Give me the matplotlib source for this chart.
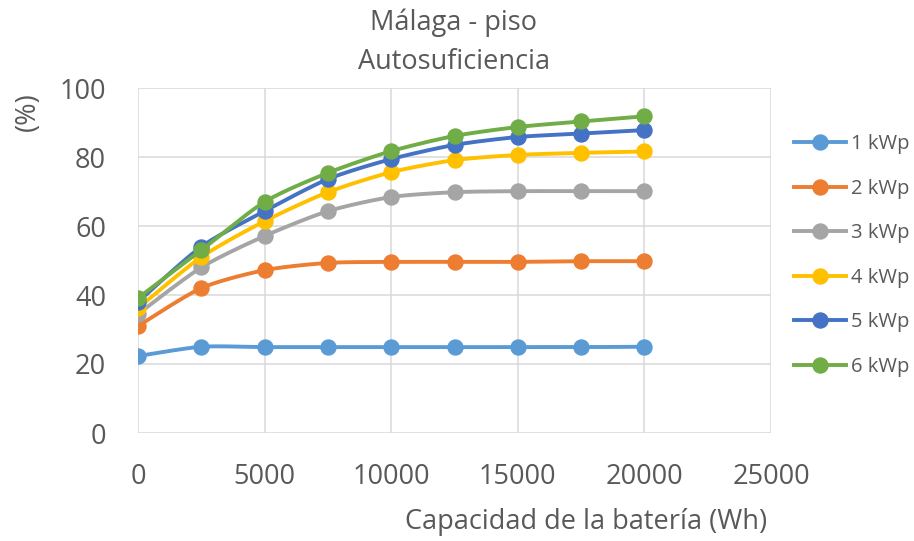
import numpy as np
import matplotlib
matplotlib.use("Agg")
import matplotlib.pyplot as plt
from matplotlib.lines import Line2D

# Battery capacity (Wh) and self-sufficiency (%) per PV size
capacidad = [0, 2500, 5000, 7500, 10000, 12500, 15000, 17500, 20000]
series_labels = ["1 kWp", "2 kWp", "3 kWp", "4 kWp", "5 kWp", "6 kWp"]
kwp1 = [22.3, 25.0, 24.9, 24.9, 24.9, 24.9, 24.9, 24.9, 25.0]
kwp2 = [31.0, 42.0, 47.2, 49.3, 49.6, 49.6, 49.6, 49.8, 49.8]
kwp3 = [34.5, 48.0, 57.1, 64.3, 68.4, 69.8, 70.1, 70.1, 70.1]
kwp4 = [36.2, 51.0, 61.4, 69.8, 75.6, 79.1, 80.6, 81.2, 81.6]
kwp5 = [38.0, 54.0, 64.3, 73.6, 79.4, 83.5, 85.8, 86.8, 87.8]
kwp6 = [39.1, 53.0, 67.0, 75.4, 81.7, 86.1, 88.7, 90.3, 91.8]
colors = ["#5B9BD5", "#ED7D31", "#A5A5A5", "#FFC000", "#4472C4", "#70AD47"]

title_lines = ["Málaga - piso", "Autosuficiencia"]
xlabel = "Capacidad de la batería (Wh)"
ylabel = "(%)"
xticks = [0, 5000, 10000, 15000, 20000, 25000]
yticks = [0, 20, 40, 60, 80, 100]

TEXT = "#595959"
GRID = "#D9D9D9"
FONT = "Open Sans"
FS = 19.5


def smooth(x, y, n=24):
    """Catmull-Rom curve through the points (like a smoothed line chart)."""
    x = np.asarray(x, float)
    y = np.asarray(y, float)
    px = np.concatenate([[x[0]], x, [x[-1]]])
    py = np.concatenate([[y[0]], y, [y[-1]]])
    xs, ys = [], []
    for i in range(1, len(px) - 2):
        t = np.linspace(0, 1, n, endpoint=False)
        for arr, out in ((px, xs), (py, ys)):
            p0, p1, p2, p3 = arr[i - 1], arr[i], arr[i + 1], arr[i + 2]
            m1 = (p2 - p0) / 2 * 0.75
            m2 = (p3 - p1) / 2 * 0.75
            h00 = 2 * t**3 - 3 * t**2 + 1
            h10 = t**3 - 2 * t**2 + t
            h01 = -2 * t**3 + 3 * t**2
            h11 = t**3 - t**2
            out.append(h00 * p1 + h10 * m1 + h01 * p2 + h11 * m2)
    xs.append([x[-1]])
    ys.append([y[-1]])
    return np.concatenate(xs), np.concatenate(ys)


fig = plt.figure(figsize=(9.14, 5.41), dpi=100)
ax = fig.add_axes([138 / 914, 1 - 433 / 541, (771 - 138) / 914, (433 - 88) / 541])

all_series = [kwp1, kwp2, kwp3, kwp4, kwp5, kwp6]
handles = []
for vals, col, lab in zip(all_series, colors, series_labels):
    sx, sy = smooth(capacidad, vals)
    ax.plot(sx, sy, color=col, lw=2.8, solid_capstyle="round", zorder=3)
    ax.plot(capacidad, vals, ls="none", marker="o", ms=10.8, color=col, zorder=3)
    handles.append(Line2D([], [], color=col, lw=2.8, marker="o", ms=10.8))

ax.set_xlim(0, 25000)
ax.set_ylim(0, 100)
ax.set_xticks(xticks)
ax.set_yticks(yticks)
ax.set_xticklabels([str(v) for v in xticks])
ax.set_yticklabels([str(v) for v in yticks])
ax.grid(True, color=GRID, lw=1.1)
ax.set_axisbelow(True)
for s in ax.spines.values():
    s.set_visible(False)
ax.tick_params(length=0, colors=TEXT, labelsize=FS)
ax.tick_params(axis="x", pad=21.5)
ax.tick_params(axis="y", pad=23)
for lbl in ax.get_xticklabels() + ax.get_yticklabels():
    lbl.set_fontfamily(FONT)
    lbl.set_color(TEXT)

fig.text(454 / 914, 1 - 23 / 541, title_lines[0], ha="center", va="center",
         fontsize=FS, color=TEXT, family=FONT)
fig.text(454 / 914, 1 - 62 / 541, title_lines[1], ha="center", va="center",
         fontsize=FS, color=TEXT, family=FONT)
fig.text(586 / 914, 1 - 522 / 541, xlabel, ha="center", va="center",
         fontsize=FS, color=TEXT, family=FONT)
fig.text(28 / 914, 1 - 112 / 541, ylabel, ha="center", va="center",
         rotation=90, fontsize=FS, color=TEXT, family=FONT)

leg = fig.legend(handles, series_labels, loc="upper left",
                 bbox_to_anchor=(776 / 914, 1 - 116 / 541), frameon=False,
                 handlelength=2.6, handletextpad=0.2, labelspacing=1.22,
                 prop={"family": FONT, "size": 14.5})
for t in leg.get_texts():
    t.set_color(TEXT)

fig.savefig("out.png", dpi=100)
